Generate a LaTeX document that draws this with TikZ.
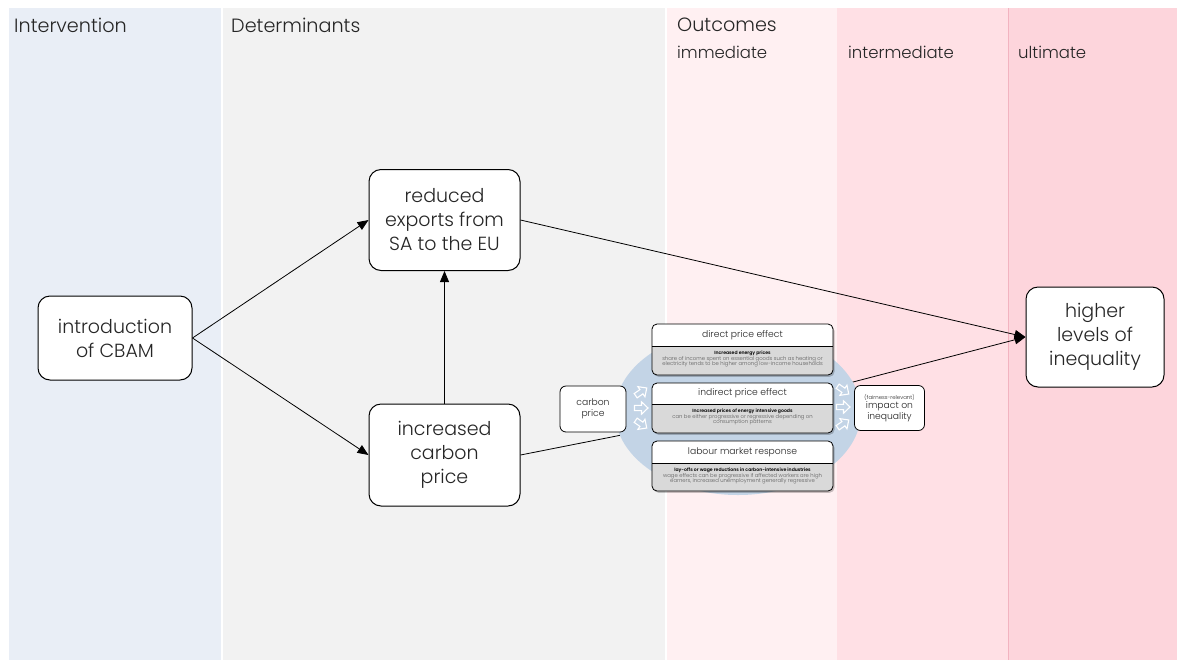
\documentclass[tikz,border=0pt]{standalone}
\usepackage{fontspec}
\setmainfont{Poppins Light}[BoldFont={Poppins SemiBold}]
\usetikzlibrary{shapes.geometric,arrows.meta}

\definecolor{bandInt}{HTML}{E9EEF6}
\definecolor{bandDet}{HTML}{F2F2F2}
\definecolor{bandImm}{HTML}{FFF0F2}
\definecolor{bandMid}{HTML}{FFE0E5}
\definecolor{bandUlt}{HTML}{FDD5DC}
\definecolor{bandLine}{HTML}{F2B3C0}
\definecolor{ovalBlue}{HTML}{C3D4E6}
\definecolor{panelGrey}{HTML}{D9D9D9}
\definecolor{bodyGrey}{HTML}{5A5A5A}
\definecolor{textGrey}{HTML}{262626}

\tikzset{
  band/.style={draw=none},
  headtext/.style={anchor=west, inner sep=0pt, text=textGrey, font=\fontsize{19.2}{22}\selectfont},
  subhead/.style={anchor=west, inner sep=0pt, text=textGrey, font=\fontsize{16.5}{19}\selectfont},
  bigbox/.style={draw=black, line width=1pt, fill=white, rounded corners=12pt,
    align=center, inner sep=2pt, text=textGrey, font=\fontsize{19}{24}\selectfont},
  smallbox/.style={draw=black, line width=0.8pt, fill=white, rounded corners=6pt,
    align=center, inner sep=1pt, text=textGrey, font=\fontsize{9.2}{10.5}\selectfont},
  flow/.style={line width=0.8pt, draw=black, -{Triangle[length=11pt,width=9pt]}},
  plain/.style={line width=0.8pt, draw=black},
  hdtext/.style={inner sep=0pt, text=textGrey, font=\fontsize{9.2}{10}\selectfont},
  boldtext/.style={inner sep=0pt, text=black, font=\bfseries\fontsize{4.6}{5.5}\selectfont},
  bodytext/.style={inner sep=0pt, text=bodyGrey, align=center, font=\fontsize{5.3}{5.6}\selectfont},
  blockarrow/.pic={
    \draw[white, line width=1.1pt, fill=ovalBlue, line join=miter]
      (-6.5,-2.6) -- (0.5,-2.6) -- (0.5,-6.2) -- (7,0) -- (0.5,6.2) -- (0.5,2.6) -- (-6.5,2.6) -- cycle;
  },
}

% one effect panel: name, left, top, right, divider, bottom, header, bold line, body
\newcommand\effectpanel[9]{%
  \fill[black, opacity=0.22, rounded corners=5pt] (#2+1.5,#3+1.8) rectangle (#4+1.5,#6+1.8);
  \fill[panelGrey, rounded corners=5pt] (#2,#3) rectangle (#4,#6);
  \begin{scope}
    \clip[rounded corners=5pt] (#2,#3) rectangle (#4,#6);
    \fill[white] (#2,#3) rectangle (#4,#5);
  \end{scope}
  \draw[line width=0.8pt] (#2,#5) -- (#4,#5);
  \draw[line width=0.8pt, rounded corners=5pt] (#2,#3) rectangle (#4,#6);
  \node[hdtext] (#1-head) at ({(#2+#4)/2},{(#3+#5)/2}) {#7};
  \node[boldtext] (#1-bold) at ({(#2+#4)/2},#5+7) {#8};
  \node[bodytext, anchor=north] (#1-body) at ({(#2+#4)/2},#5+10) {#9};
}

\begin{document}
\begin{tikzpicture}[x=1pt,y=-1pt]
\useasboundingbox (0,0) rectangle (1177,662);
\fill[white] (0,0) rectangle (1177,662);

% column bands
\fill[band, bandInt] (9,8) rectangle (221,660);
\fill[band, bandDet] (223,8) rectangle (665,660);
\fill[band, bandImm] (667,8) rectangle (837,660);
\fill[band, bandMid] (837,8) rectangle (1008,660);
\fill[band, bandUlt] (1008,8) rectangle (1177,660);
\draw[bandLine, line width=0.7pt] (1008,8) -- (1008,660);

% column headings
\node[headtext] (hInt) at (14,25) {Intervention};
\node[headtext] (hDet) at (231,25) {Determinants};
\node[headtext] (hOut) at (677,25) {Outcomes};
\node[subhead] (hImm) at (677,52) {immediate};
\node[subhead] (hMid) at (848,52) {intermediate};
\node[subhead] (hUlt) at (1018,52) {ultimate};

% main chain
\node[bigbox, minimum width=154pt, minimum height=84pt] (cbam) at (115,338) {introduction\\of CBAM};
\node[bigbox, minimum width=151pt, minimum height=101pt] (exports) at (444.5,220) {reduced\\exports from\\SA to the EU};
\node[bigbox, minimum width=151pt, minimum height=102pt] (price) at (444.5,455) {increased\\carbon\\price};
\node[bigbox, minimum width=138pt, minimum height=100pt] (ineq) at (1095,337) {higher\\levels of\\inequality};

% mechanism cluster
\coordinate (ovalc) at (738,412);
\draw[plain] (price.east) -- (ovalc);
\draw[flow] (ovalc) -- (ineq.west);
\node[ellipse, fill=ovalBlue, minimum width=246pt, minimum height=166pt, inner sep=0pt] (oval) at (ovalc) {};

\draw[flow] (cbam.east) -- (exports.west);
\draw[flow] (cbam.east) -- (price.west);
\draw[flow] (price.north) -- (exports.south);
\draw[flow] (exports.east) -- (ineq.west);

\effectpanel{direct}{652}{324}{833}{346}{375}{direct price effect}{Increased energy prices}{share of income spent on essential goods such as heating or\\electricity tends to be higher among low-income households}
\effectpanel{indirect}{652}{383}{833}{404}{433}{indirect price effect}{Increased prices of energy intensive goods}{can be either progressive or regressive depending on\\consumption patterns}
\effectpanel{labour}{652}{441}{833}{463}{491}{labour market response}{lay-offs or wage reductions in carbon-intensive industries}{wage effects can be progressive if affected workers are high\\earners, increased unemployment generally regressive}

\node[smallbox, minimum width=66pt, minimum height=46pt] (cprice) at (593,409) {carbon\\price};
\node[smallbox, minimum width=70pt, minimum height=45pt] (impact) at (889.5,408)
  {{\fontsize{5.4}{6}\selectfont (fairness-relevant)}\\[-1pt]impact on\\inequality};

% fan of hollow arrows on both sides of the panels
\pic[rotate=35] at (641,392) {blockarrow};
\pic at (641,408) {blockarrow};
\pic[rotate=-35] at (641,424) {blockarrow};
\pic[rotate=-35] at (843,390) {blockarrow};
\pic at (843,407) {blockarrow};
\pic[rotate=35] at (843,424) {blockarrow};
\end{tikzpicture}
\end{document}
